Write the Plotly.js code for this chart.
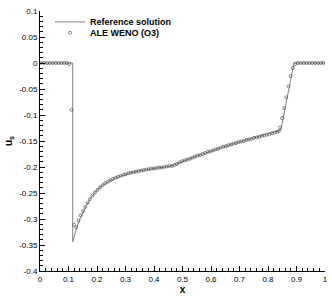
<!DOCTYPE html>
<html>
<head>
<meta charset="utf-8">
<script src="https://cdn.plot.ly/plotly-3.0.1.min.js"></script>
<style>html,body{margin:0;padding:0;background:#fff}#chart{width:332px;height:296px}</style>
</head>
<body>
<div id="chart"></div>
<script>
// Reference solution (line)
var refX = [0, 0.1148, 0.1148, 0.12, 0.13, 0.14, 0.15, 0.16, 0.175, 0.19, 0.20, 0.22, 0.243, 0.26, 0.281, 0.30, 0.32, 0.351, 0.38, 0.41, 0.44, 0.468, 0.48, 0.50, 0.52, 0.56, 0.60, 0.64, 0.68, 0.72, 0.76, 0.80, 0.84, 0.845, 0.85, 0.86, 0.87, 0.88, 0.886, 0.891, 1];
var refY = [0, 0, -0.344, -0.333, -0.315, -0.300, -0.288, -0.277, -0.262, -0.250, -0.244, -0.235, -0.227, -0.222, -0.218, -0.214, -0.211, -0.207, -0.204, -0.202, -0.200, -0.197, -0.194, -0.189, -0.185, -0.177, -0.169, -0.162, -0.155, -0.149, -0.143, -0.137, -0.131, -0.129, -0.115, -0.086, -0.056, -0.027, -0.009, 0, 0];

// ALE WENO (O3) numerical solution (markers)
var aleX = [0.005, 0.015, 0.025, 0.035, 0.045, 0.055, 0.065, 0.075, 0.085, 0.095, 0.103, 0.111, 0.119, 0.127, 0.135, 0.143, 0.151, 0.159, 0.167, 0.175, 0.184, 0.193, 0.202, 0.211, 0.220, 0.229, 0.238, 0.247, 0.256, 0.265, 0.274, 0.283, 0.292, 0.301, 0.310, 0.319, 0.328, 0.337, 0.346, 0.355, 0.364, 0.373, 0.382, 0.391, 0.400, 0.409, 0.418, 0.427, 0.436, 0.445, 0.454, 0.463, 0.472, 0.481, 0.490, 0.499, 0.508, 0.517, 0.526, 0.535, 0.544, 0.553, 0.562, 0.571, 0.580, 0.589, 0.598, 0.607, 0.616, 0.625, 0.634, 0.643, 0.652, 0.661, 0.670, 0.679, 0.688, 0.697, 0.706, 0.715, 0.724, 0.733, 0.742, 0.751, 0.760, 0.769, 0.778, 0.787, 0.796, 0.805, 0.814, 0.823, 0.832, 0.838, 0.842, 0.849, 0.857, 0.864, 0.872, 0.879, 0.887, 0.895, 0.905, 0.915, 0.925, 0.935, 0.945, 0.955, 0.965, 0.975, 0.985, 0.995];
var aleY = [0, 0, 0, 0, 0, 0, 0, 0, 0, 0, -0.002, -0.090, -0.311, -0.316, -0.303, -0.293, -0.285, -0.277, -0.269, -0.262, -0.255, -0.249, -0.244, -0.239, -0.235, -0.231, -0.228, -0.226, -0.223, -0.221, -0.219, -0.217, -0.215, -0.214, -0.212, -0.211, -0.210, -0.209, -0.208, -0.207, -0.206, -0.205, -0.204, -0.203, -0.203, -0.202, -0.201, -0.201, -0.200, -0.199, -0.198, -0.198, -0.196, -0.194, -0.191, -0.189, -0.187, -0.186, -0.184, -0.182, -0.180, -0.178, -0.177, -0.175, -0.173, -0.171, -0.170, -0.168, -0.166, -0.165, -0.163, -0.161, -0.160, -0.158, -0.157, -0.155, -0.154, -0.152, -0.151, -0.150, -0.148, -0.147, -0.146, -0.144, -0.143, -0.142, -0.140, -0.139, -0.138, -0.137, -0.135, -0.134, -0.132, -0.131, -0.124, -0.106, -0.087, -0.066, -0.045, -0.025, -0.010, -0.002, 0, 0, 0, 0, 0, 0, 0, 0, 0, 0];

var xTickVals = [0, 0.1, 0.2, 0.3, 0.4, 0.5, 0.6, 0.7, 0.8, 0.9, 1];
var xTickText = ['0', '0.1', '0.2', '0.3', '0.4', '0.5', '0.6', '0.7', '0.8', '0.9', '1'];
var yTickVals = [0.1, 0.05, 0, -0.05, -0.1, -0.15, -0.2, -0.25, -0.3, -0.35, -0.4];
var yTickText = ['0.1', '0.05', '0', '-0.05', '-0.1', '-0.15', '-0.2', '-0.25', '-0.3', '-0.35', '-0.4'];

var traces = [
  {x: refX, y: refY, type: 'scatter', mode: 'lines', name: 'Reference solution',
   line: {color: '#808080', width: 1}, legend: 'legend'},
  {x: aleX, y: aleY, type: 'scatter', mode: 'markers', name: 'ALE WENO (O3)',
   marker: {symbol: 'circle-open', size: 3, color: '#555', line: {width: 0.7, color: '#555'}}, legend: 'legend2'}
];

var tickFont = {family: 'Liberation Sans, Arial, sans-serif', size: 8, color: '#000'};
var legFont = {family: 'Liberation Sans, Arial, sans-serif', size: 9, color: '#000', weight: 'bold'};

var layout = {
  width: 332, height: 296,
  margin: {l: 40, r: 7, t: 11, b: 25},
  paper_bgcolor: '#fff', plot_bgcolor: '#fff',
  showlegend: true,
  legend: {x: 0.035, y: 0.958, xanchor: 'left', yanchor: 'middle', bgcolor: 'rgba(0,0,0,0)', font: legFont, borderwidth: 0},
  legend2: {x: 0.035, y: 0.9165, xanchor: 'left', yanchor: 'middle', bgcolor: 'rgba(0,0,0,0)', font: legFont, borderwidth: 0},
  xaxis: {
    range: [0, 1], showgrid: false, zeroline: false,
    showline: true, linecolor: '#000', linewidth: 1,
    ticks: 'inside', ticklen: 5, tickwidth: 1, tickcolor: '#000',
    tickvals: xTickVals, ticktext: xTickText, tickfont: tickFont,
    minor: {dtick: 0.02, ticks: 'inside', ticklen: 3, tickwidth: 1, tickcolor: '#000', showgrid: false},
    title: {text: '<b>x</b>', font: {family: 'Liberation Sans, Arial, sans-serif', size: 10, color: '#000'}, standoff: 2}
  },
  yaxis: {
    range: [-0.4, 0.1], showgrid: false, zeroline: false,
    showline: true, linecolor: '#000', linewidth: 1,
    ticks: 'inside', ticklen: 5, tickwidth: 1, tickcolor: '#000',
    tickvals: yTickVals, ticktext: yTickText, tickfont: tickFont,
    minor: {dtick: 0.01, ticks: 'inside', ticklen: 3, tickwidth: 1, tickcolor: '#000', showgrid: false},
    title: {text: '<b>u<sub>s</sub></b>', font: {family: 'Liberation Sans, Arial, sans-serif', size: 10, color: '#000'}, standoff: 4}
  }
};

Plotly.newPlot('chart', traces, layout, {displayModeBar: false, staticPlot: true});
</script>
</body>
</html>
